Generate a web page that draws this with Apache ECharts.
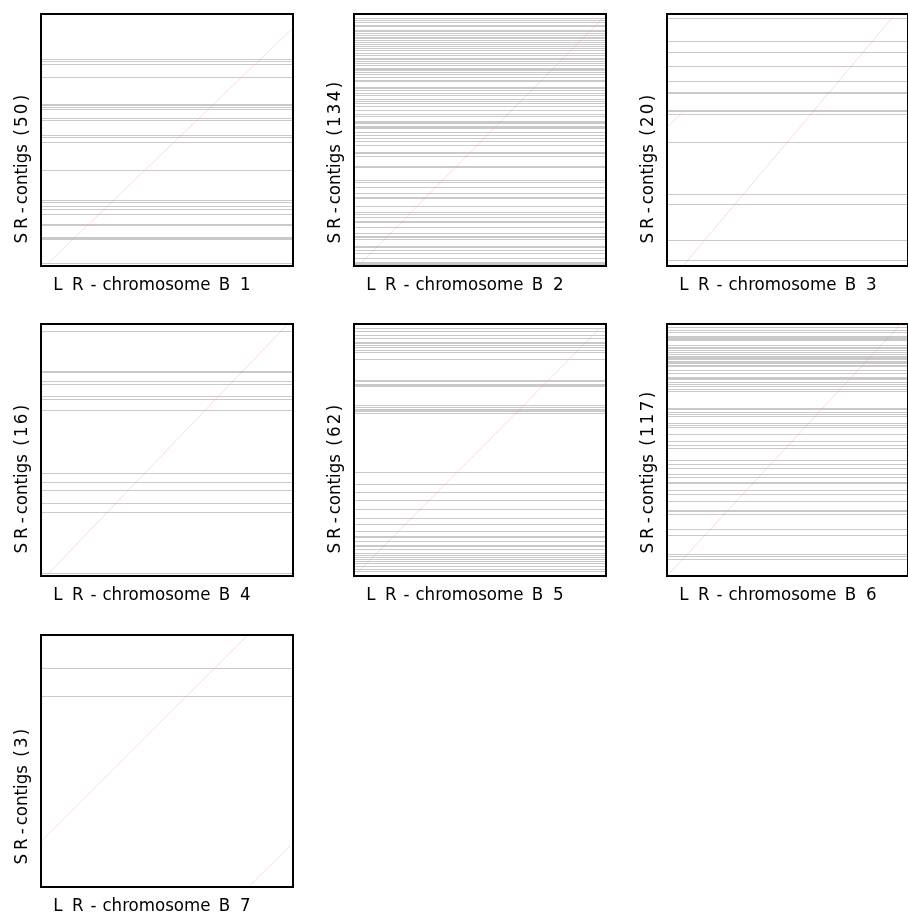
<!DOCTYPE html>
<html>
<head>
<meta charset="utf-8">
<script src="https://cdn.jsdelivr.net/npm/echarts@6/dist/echarts.min.js"></script>
<style>
  html, body { margin: 0; padding: 0; background: #fff; }
  #chart { width: 908px; height: 914px; }
</style>
</head>
<body>
<div id="chart"></div>
<script>
// Long-read chromosomes and the number of short-read contigs placed on each
const chromosomes = ['B1', 'B2', 'B3', 'B4', 'B5', 'B6', 'B7'];
const contigCounts = [50, 134, 20, 16, 62, 117, 3];

// Contig boundaries along each chromosome (% of chromosome length, 0 = start)
const boundsB1 = [82.0, 81.2, 80.3, 75.0, 64.2, 63.7, 63.1, 62.3, 58.9, 57.8, 52.0, 51.2, 49.4,
  38.1, 26.0, 25.3, 23.9, 22.5, 20.5, 16.6, 16.1, 11.4, 11.0, 10.8, 1.1];
const boundsB2 = [98.5, 97.6, 96.8, 95.8, 95.1, 93.8, 93.2, 92.5, 91.7, 90.9, 90.5, 89.6, 88.7,
  87.9, 87.5, 87.2, 86.7, 85.8, 84.7, 83.7, 82.7, 82.3, 81.4, 80.5, 79.7, 78.7, 78.3, 77.7, 77.1,
  76.0, 75.1, 74.0, 73.5, 70.9, 70.5, 70.0, 68.8, 67.9, 66.1, 65.5, 64.5, 63.5, 62.1, 60.5, 59.6,
  57.7, 57.3, 56.6, 55.7, 55.1, 54.7, 53.0, 51.9, 50.7, 49.8, 48.2, 45.3, 44.9, 43.8, 39.8, 39.4,
  34.0, 33.2, 31.3, 29.0, 27.3, 26.9, 24.0, 21.6, 20.6, 19.4, 17.8, 17.4, 15.5, 12.9, 12.1, 11.7,
  10.6, 7.9, 7.5, 6.3, 5.0, 3.3, 1.7, 1.3, 0.7];
const boundsB3 = [98.6, 89.3, 84.9, 79.4, 73.4, 68.9, 68.5, 61.8, 61.4, 60.4, 49.3, 28.7, 24.8,
  10.5, 2.3];
const boundsB4 = [97.1, 81.5, 81.1, 77.3, 76.1, 71.6, 70.2, 66.0, 40.9, 37.4, 34.2, 29.0, 25.2, 1.1];
const boundsB5 = [98.3, 97.2, 95.6, 94.6, 93.0, 92.4, 91.7, 90.8, 89.7, 88.8, 86.3, 77.8, 77.2,
  76.3, 75.6, 75.2, 67.7, 67.0, 66.2, 65.7, 65.3, 64.7, 41.3, 36.7, 33.5, 30.1, 26.7, 23.2, 20.5,
  17.8, 15.8, 15.3, 13.7, 12.5, 12.1, 10.6, 9.3, 8.5, 7.7, 6.6, 5.8, 5.0, 4.0, 2.9, 1.9];
const boundsB6 = [98.7, 97.8, 97.0, 95.4, 95.1, 94.7, 94.3, 93.9, 93.5, 91.7, 90.9, 90.3, 89.7,
  88.9, 87.9, 87.5, 87.1, 86.7, 86.0, 85.4, 85.0, 84.4, 83.6, 83.2, 81.8, 80.5, 78.8, 78.4, 78.0,
  77.0, 76.3, 75.3, 74.3, 73.5, 66.6, 66.2, 65.2, 64.2, 63.3, 60.6, 60.0, 59.1, 56.3, 53.7, 52.1,
  50.7, 46.0, 44.5, 42.8, 40.6, 39.2, 37.5, 37.1, 34.3, 32.7, 29.8, 26.3, 25.9, 24.8, 18.8, 16.4,
  8.8, 7.9, 6.9];
const boundsB7 = [86.8, 75.7];

// Alignment segments: [[x start, y start], [x end, y end]] in % of each axis
const alignB1 = [[[2.5, 0.8], [99.5, 94]]];
const alignB2 = [[[2.8, 1.2], [98.5, 98.1]]];
const alignB3 = [[[6.6, 0], [93, 98]], [[0, 55], [6.6, 61]]];
const alignB4 = [[[2.5, 0.5], [97.5, 99.5]]];
const alignB5 = [[[1.1, 1.1], [97.6, 98.3]]];
const alignB6 = [[[0, 0], [97, 100]]];
const alignB7 = [[[0.5, 18.5], [81.7, 99.6]], [[83, 0.7], [99, 16.5]]];

const bounds = [boundsB1, boundsB2, boundsB3, boundsB4, boundsB5, boundsB6, boundsB7];
const aligns = [alignB1, alignB2, alignB3, alignB4, alignB5, alignB6, alignB7];

// panel layout (3 columns)
const PANEL = 252, COL0 = 41, COL_STEP = 313, ROW_TOPS = [14, 324, 635];
const FONT_SIZE = 18.5, FONT_FAMILY = '"DejaVu Sans Condensed", "DejaVu Sans", sans-serif';

// rich-text pieces with trailing gaps, giving the wide spacing of the axis captions
function piece(gap) {
  return { fontSize: FONT_SIZE, fontFamily: FONT_FAMILY, fill: '#000', padding: [0, gap, 0, 0] };
}
const xRich = { l: piece(9.5), r: piece(6.8), h: piece(6.0), w: piece(3.1), b: piece(9.8), n: piece(0) };
const yRich = { s: piece(4), r: piece(4), h: piece(3), w: piece(3), p: piece(2.3), d: piece(2.3), e: piece(0) };

function xLabel(name) {
  return '{l|L}{r|R}{h|-}{w|chromosome }{b|B}{n|' + name.slice(1) + '}';
}
function yLabel(count) {
  return '{s|S}{r|R}{h|-}{w|contigs }{p|(}' +
    String(count).split('').map(c => '{d|' + c + '}').join('') + '{e|)}';
}

function renderBoundary(params, api) {
  const cs = params.coordSys;
  const y = Math.round(api.coord([0, api.value(1)])[1]) + 0.5;
  return {
    type: 'line',
    silent: true,
    shape: { x1: cs.x + 1, y1: y, x2: cs.x + cs.width - 1, y2: y },
    style: { stroke: '#c9c9c9', lineWidth: 1 }
  };
}

const grid = [], xAxis = [], yAxis = [], series = [], graphic = [];
chromosomes.forEach((name, i) => {
  const left = COL0 + (i % 3) * COL_STEP;
  const top = ROW_TOPS[Math.floor(i / 3)];
  grid.push({
    left: left, top: top, width: PANEL, height: PANEL,
    show: true, borderColor: '#000', borderWidth: 2, backgroundColor: 'transparent'
  });
  xAxis.push({ gridIndex: i, type: 'value', min: 0, max: 100, show: false });
  yAxis.push({ gridIndex: i, type: 'value', min: 0, max: 100, show: false });
  series.push({
    type: 'custom',
    xAxisIndex: i, yAxisIndex: i,
    renderItem: renderBoundary,
    data: bounds[i].map(v => [0, v]),
    encode: { x: 0, y: 1 },
    silent: true, z: 2
  });
  series.push({
    type: 'lines',
    coordinateSystem: 'cartesian2d',
    xAxisIndex: i, yAxisIndex: i,
    data: aligns[i].map(seg => ({ coords: seg })),
    lineStyle: { color: 'rgba(240,110,140,0.25)', width: 1, opacity: 1 },
    silent: true, z: 3
  });
  graphic.push({
    type: 'text', x: left + 12.3, y: top + PANEL + 19,
    style: {
      text: xLabel(name), rich: xRich, fontSize: FONT_SIZE, fontFamily: FONT_FAMILY,
      fill: '#000', align: 'left', verticalAlign: 'middle'
    }
  });
  graphic.push({
    type: 'text', x: left - 18.5, y: top + PANEL - 22.5, rotation: Math.PI / 2,
    style: {
      text: yLabel(contigCounts[i]), rich: yRich, fontSize: FONT_SIZE, fontFamily: FONT_FAMILY,
      fill: '#000', align: 'left', verticalAlign: 'middle'
    }
  });
});

const chart = echarts.init(document.getElementById('chart'), null, { renderer: 'canvas' });
chart.setOption({
  animation: false,
  backgroundColor: '#fff',
  grid: grid,
  xAxis: xAxis,
  yAxis: yAxis,
  series: series,
  graphic: graphic
});
</script>
</body>
</html>
